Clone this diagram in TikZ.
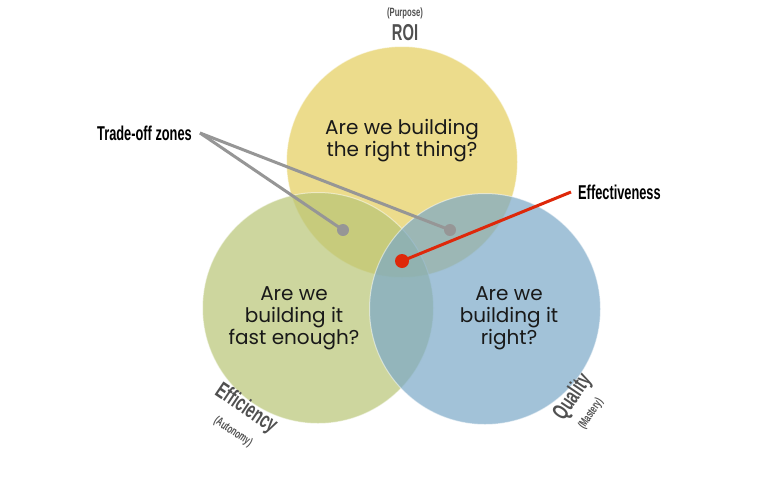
\documentclass[tikz,border=0pt]{standalone}
\usepackage{fontspec}
\setmainfont{Poppins}
\newfontfamily\condfont[FakeStretch=0.64]{Liberation Sans}
\definecolor{roiyellow}{RGB}{228,205,91}
\definecolor{effgreen}{RGB}{184,197,117}
\definecolor{qualblue}{RGB}{122,168,199}
\definecolor{zonegray}{RGB}{150,150,150}
\definecolor{effred}{RGB}{222,40,10}
\definecolor{labelgray}{RGB}{80,80,80}
\begin{document}
\begin{tikzpicture}[x=1pt,y=-1pt]
\tikzset{
  venn/.style={circle,minimum size=231pt,inner sep=0pt,fill opacity=0.7,draw=white,draw opacity=0.5,line width=1pt},
  question/.style={align=center,font=\fontsize{20}{22}\selectfont,text=black!90},
  biglabel/.style={font=\condfont\bfseries\fontsize{23}{24}\selectfont,text=labelgray,inner sep=0pt},
  smalllabel/.style={font=\condfont\bfseries\fontsize{12}{13}\selectfont,text=labelgray,inner sep=0pt},
  callout/.style={font=\condfont\bfseries\fontsize{20}{21}\selectfont,inner sep=0pt},
  dot/.style={circle,inner sep=0pt,minimum size=#1}
}
\useasboundingbox (0,0) rectangle (768,493);
\coordinate (Y) at (402,162);
\coordinate (G) at (318,308);
\coordinate (B) at (485,309);
\coordinate (T) at (200,133);
\coordinate (E) at (571,192);

\node[venn,fill=roiyellow] (Y1) at (Y) {};
\node[venn,fill=effgreen] (G1) at (G) {};
\node[venn,fill=qualblue] (B1) at (B) {};

\node[question] (Y2) at (402,141) {Are we building\\the right thing?};
\node[question] (G2) at (294,318) {Are we\\building it\\fast enough?};
\node[question] (B2) at (509,318) {Are we\\building it\\right?};

\node[smalllabel] (Y3) at (405,13) {(Purpose)};
\node[biglabel] (Y4) at (405,33) {ROI};
\node[biglabel,rotate=-34] (G3) at (246,409) {Efficiency};
\node[smalllabel,rotate=-34] (G4) at (233,432) {(Autonomy)};
\node[biglabel,rotate=56] (B3) at (573,397) {Quality};
\node[smalllabel,rotate=56] (B4) at (591,414) {(Mastery)};

\node[callout,anchor=east] (T1) at (192,133) {Trade-off zones};
\node[callout,anchor=west] (E1) at (578,192) {Effectiveness};

\node[dot=12pt,fill=zonegray] (D1) at (343,230) {};
\node[dot=12pt,fill=zonegray] (D2) at (450,230) {};
\node[dot=14pt,fill=effred] (D3) at (402,261) {};

\draw[zonegray,line width=3pt] (T) -- (D1.center);
\draw[zonegray,line width=3pt] (T) -- (D2.center);
\draw[effred,line width=3pt] (E) -- (D3.center);

\end{tikzpicture}
\end{document}
